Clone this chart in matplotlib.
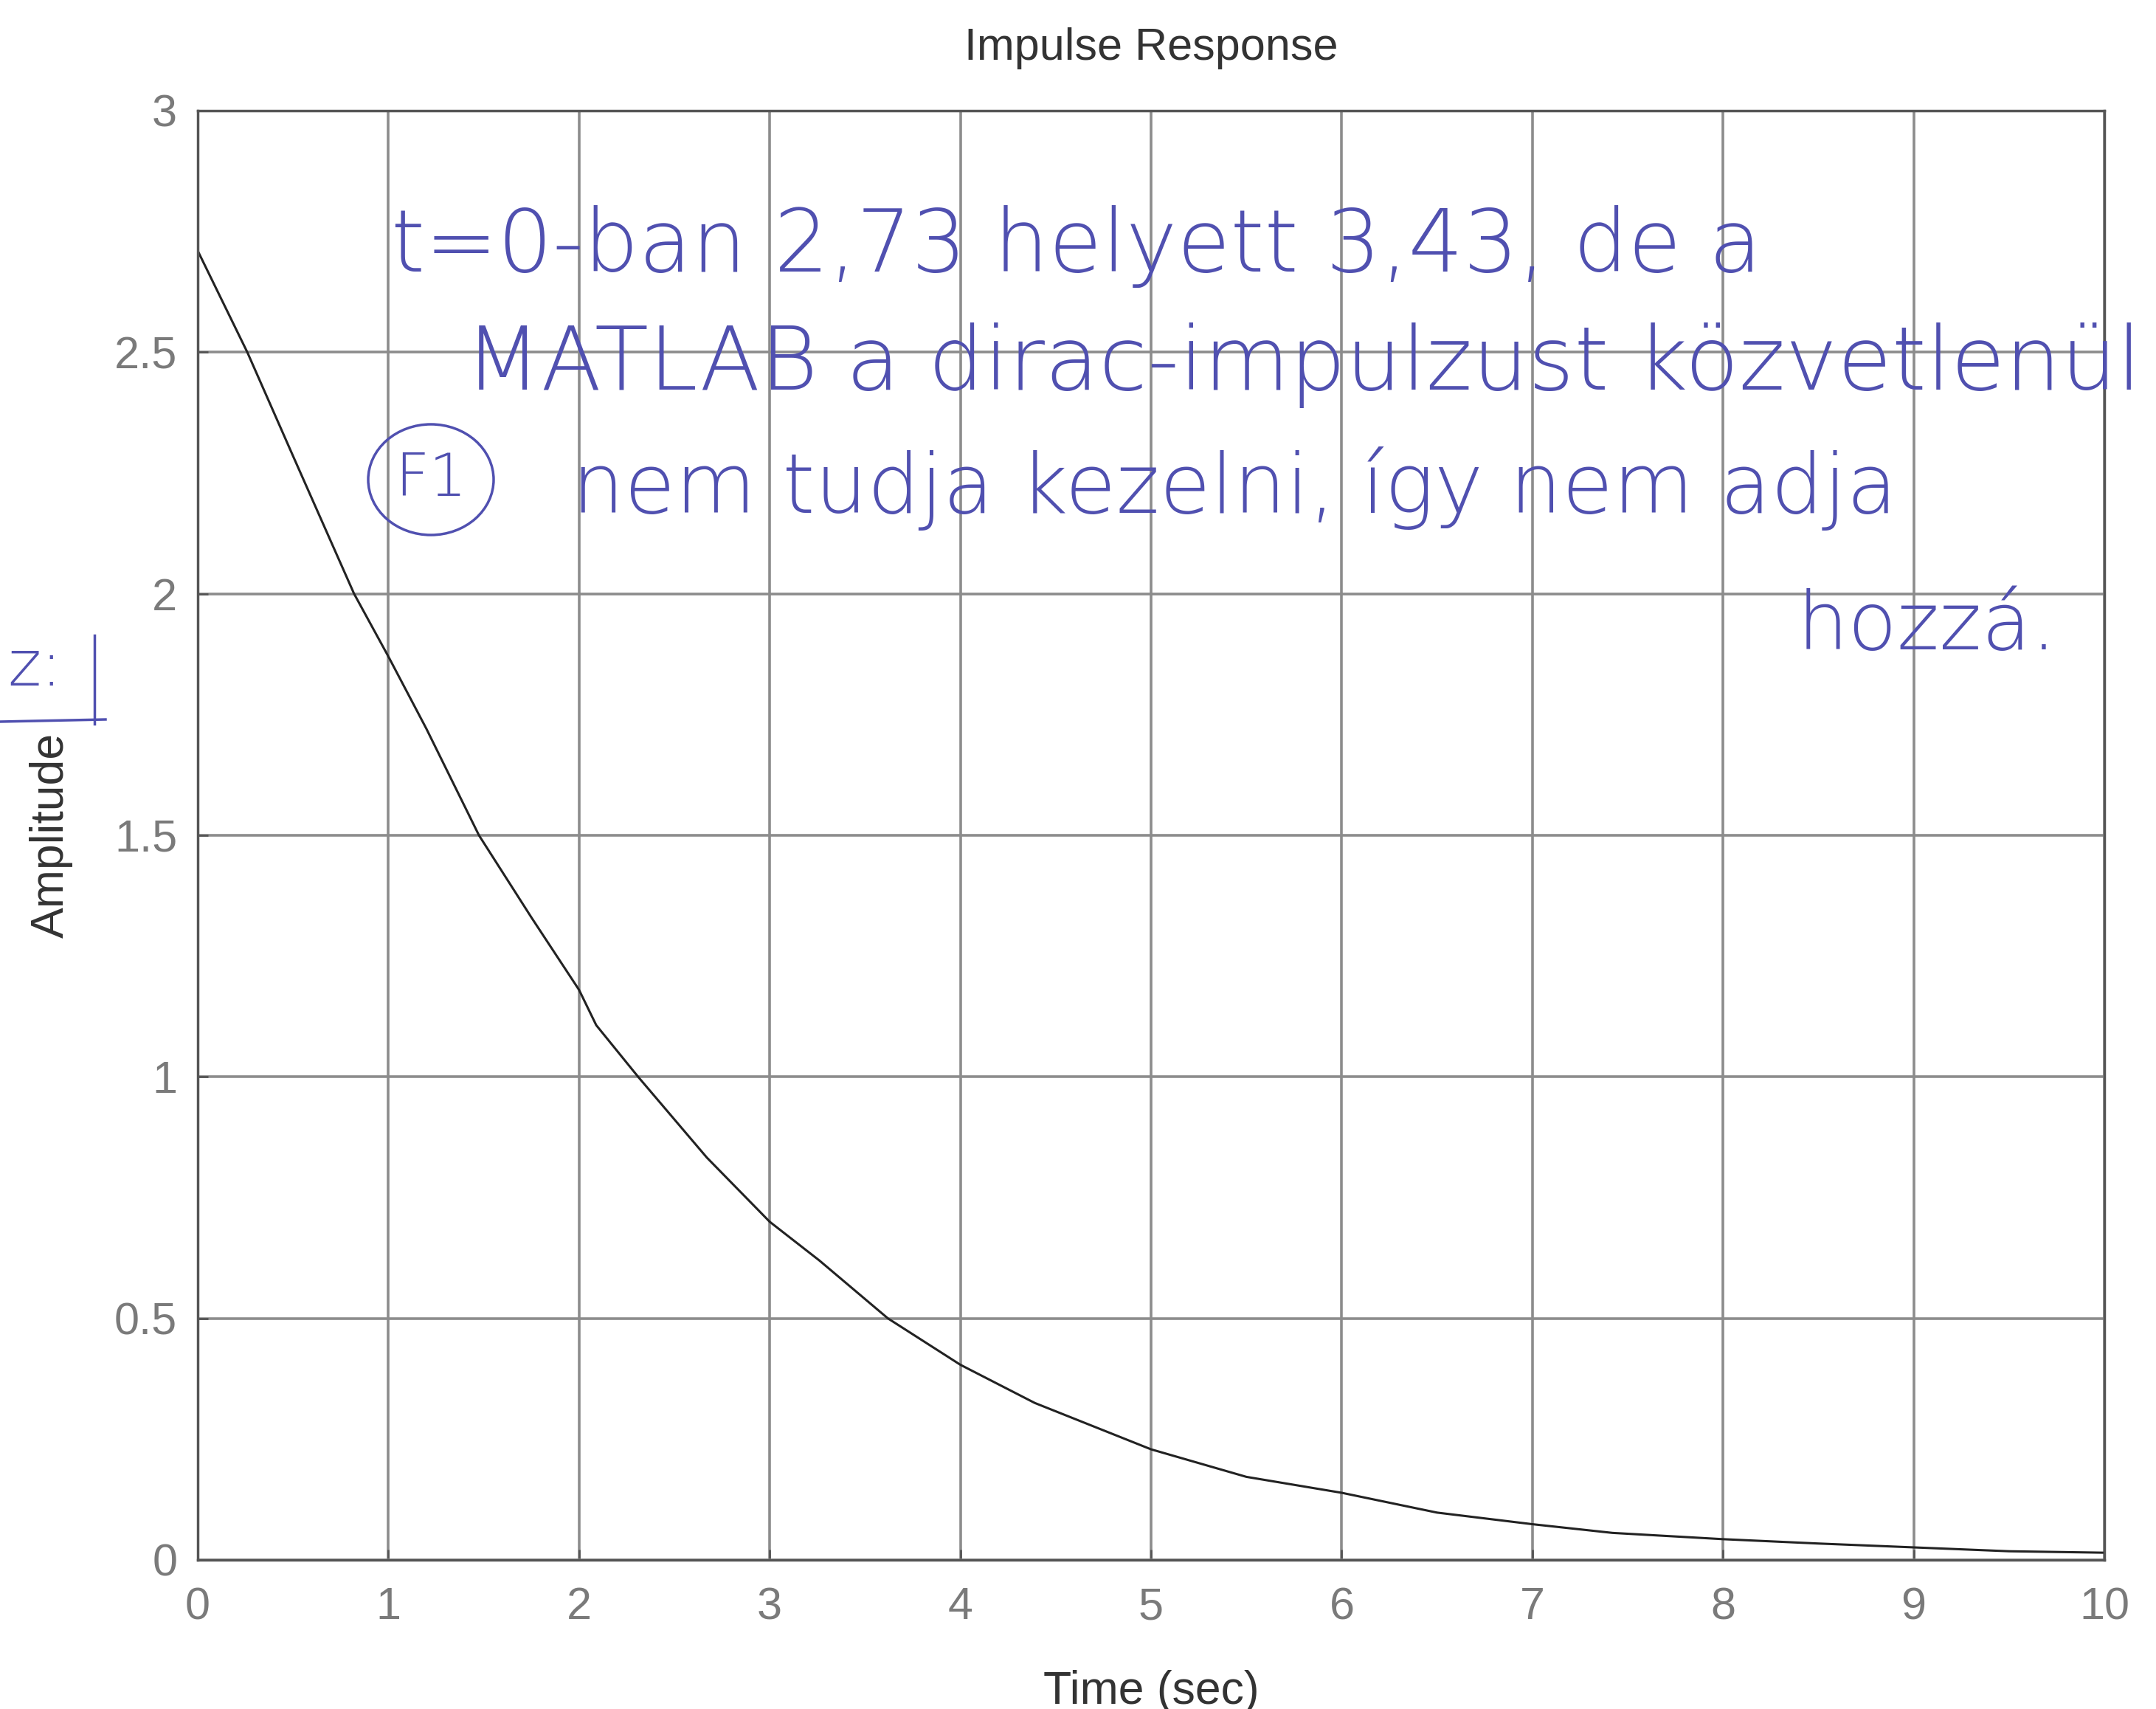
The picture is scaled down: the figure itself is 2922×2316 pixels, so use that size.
import matplotlib
matplotlib.use("Agg")
import matplotlib.pyplot as plt
from matplotlib.lines import Line2D
from matplotlib.patches import Ellipse

# ---- data ----
time_s = [0.0, 0.26, 0.5, 0.82, 1.0, 1.2, 1.475, 1.75, 2.0, 2.09, 2.31, 2.67,
          3.0, 3.26, 3.62, 4.0, 4.39, 5.0, 5.5, 6.0, 6.5, 7.0, 7.42, 8.0,
          8.5, 9.0, 9.5, 10.0]
amplitude = [2.71, 2.5, 2.285, 2.0, 1.87, 1.72, 1.5, 1.33, 1.18, 1.107, 1.0,
             0.833, 0.70, 0.62, 0.5, 0.404, 0.325, 0.229, 0.172, 0.139, 0.098,
             0.074, 0.056, 0.043, 0.034, 0.026, 0.018, 0.015]
x_ticks = [0, 1, 2, 3, 4, 5, 6, 7, 8, 9, 10]
x_tick_labels = ["0", "1", "2", "3", "4", "5", "6", "7", "8", "9", "10"]
y_ticks = [0, 0.5, 1, 1.5, 2, 2.5, 3]
y_tick_labels = ["0", "0.5", "1", "1.5", "2", "2.5", "3"]
title = "Impulse Response"
x_label = "Time (sec)"
y_label = "Amplitude"
note_lines = ["t=0-ban 2,73 helyett 3,43, de a",
              "MATLAB a dirac-impulzust közvetlenül",
              "nem tudja kezelni, így nem adja",
              "hozzá."]
note_mark = "F1"
margin_mark = "z:"

W, H = 2922, 2316
DPI = 100
plt.rcParams['font.family'] = ['Liberation Sans', 'DejaVu Sans']

fig = plt.figure(figsize=(W / DPI, H / DPI), dpi=DPI, facecolor='white')
L, R, T, B = 268, 2852, 150, 2114
ax = fig.add_axes([L / W, 1 - B / H, (R - L) / W, (B - T) / H])

ax.plot(time_s, amplitude, color='#222222', lw=2.2)
ax.set_xlim(0, 10)
ax.set_ylim(0, 3)
ax.set_xticks(x_ticks)
ax.set_xticklabels(x_tick_labels)
ax.set_yticks(y_ticks)
ax.set_yticklabels(y_tick_labels)
ax.grid(True, color='#8c8c8c', lw=2.6, ls='-')
ax.set_axisbelow(True)
for s in ax.spines.values():
    s.set_color('#555555')
    s.set_linewidth(2.5)
ax.tick_params(axis='both', direction='in', length=10, width=2, color='#555555',
               labelsize=44, labelcolor='#7a7a7a')
ax.tick_params(axis='x', pad=26)
ax.tick_params(axis='y', pad=20)
ax.set_title(title, fontsize=44, color='#333333', pad=50)
ax.set_xlabel(x_label, fontsize=45, color='#333333', labelpad=40)
ax.set_ylabel(y_label, fontsize=45, color='#333333', labelpad=40)

# ---- handwritten annotations ----
ink = '#5050b0'
renderer = fig.canvas.get_renderer()


def fit_text(s, x0, x1, yc, base=70):
    t = fig.text(x0 / W, 1 - yc / H, s, ha='left', va='center', fontsize=base,
                 color=ink, family=['DejaVu Sans'], fontweight='light')
    w = t.get_window_extent(renderer).width
    t.set_fontsize(base * (x1 - x0) / w)
    return t


fit_text(note_lines[0], 530, 2390, 335)
fit_text(note_lines[1], 630, 2905, 495)
fit_text(note_lines[2], 775, 2573, 662)
fit_text(note_lines[3], 2436, 2788, 850)

fig.text(584 / W, 1 - 650 / H, note_mark, ha='center', va='center',
         fontsize=58, color=ink, family=['DejaVu Sans'], fontweight='light')
fig.add_artist(Ellipse((584 / W, 1 - 650 / H), 170 / W, 150 / H,
                       transform=fig.transFigure, fill=False, ec=ink, lw=2.5))

fig.text(10 / W, 1 - 905 / H, margin_mark, ha='left', va='center',
         fontsize=62, color=ink, family=['DejaVu Sans'], fontweight='light')
fig.add_artist(Line2D([128 / W, 128 / W], [1 - 861 / H, 1 - 981 / H],
                      transform=fig.transFigure, color=ink, lw=2.5))
fig.add_artist(Line2D([0, 143 / W], [1 - 978 / H, 1 - 975 / H],
                      transform=fig.transFigure, color=ink, lw=2.5))

fig.savefig('out.png', dpi=DPI, facecolor='white')
